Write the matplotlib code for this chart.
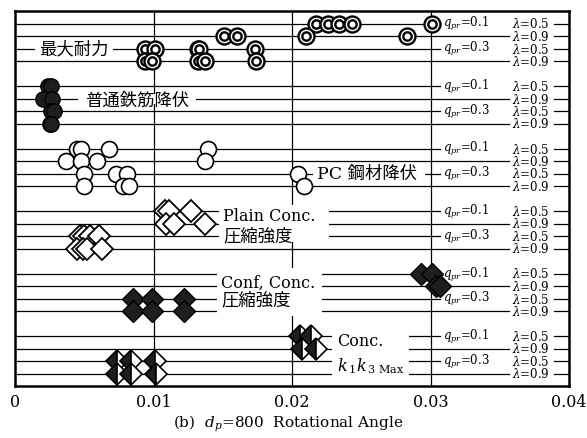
import matplotlib
matplotlib.use("Agg")
import matplotlib.pyplot as plt
from matplotlib.patches import Rectangle

plt.rcParams['mathtext.fontset'] = 'dejavuserif'

SERIF = ['DejaVu Serif', 'Noto Sans CJK JP']

# rotational angle of each specimen, per group; rows are
# (q_pr=0.1, lam=0.5), (q_pr=0.1, lam=0.9), (q_pr=0.3, lam=0.5), (q_pr=0.3, lam=0.9)
max_strength = [[0.0217, 0.0226, 0.0234, 0.0243, 0.0301],
                [0.0151, 0.0160, 0.0210, 0.0283],
                [0.0094, 0.0101, 0.0132, 0.0133, 0.0173],
                [0.0094, 0.0099, 0.0132, 0.0137, 0.0174]]
rebar_yield = [[0.0024, 0.0026],
               [0.0020, 0.0027],
               [0.0026, 0.0028],
               [0.0025, 0.0026]]
pc_yield = [[0.0045, 0.0048, 0.0068, 0.0139],
            [0.0037, 0.0048, 0.0059, 0.0137],
            [0.0050, 0.0073, 0.0081, 0.0204],
            [0.0050, 0.0078, 0.0082, 0.0209]]
plain_conc = [[0.0108, 0.0111, 0.0127],
              [0.0109, 0.0115, 0.0137],
              [0.0047, 0.0050, 0.0054, 0.0061],
              [0.0045, 0.0049, 0.0052, 0.0063]]
conf_conc = [[0.0293, 0.0301],
             [0.0304, 0.0307],
             [0.0085, 0.0099, 0.0122],
             [0.0085, 0.0099, 0.0122]]
conc_k1k3 = [[0.0206, 0.0214],
             [0.0207, 0.0217],
             [0.0074, 0.0084, 0.0101],
             [0.0074, 0.0084, 0.0102]]

q_labels = ['0.1', None, '0.3', None]
lam_labels = ['0.5', '0.9', '0.5', '0.9']
xticks = [0, 0.01, 0.02, 0.03, 0.04]
xticklabels = ['0', '0.01', '0.02', '0.03', '0.04']


def row_y(g, k):
    return 30 - (5 * g + 1 + k)


fig = plt.figure(figsize=(5.87, 4.39), dpi=100)
ax = fig.add_axes([15 / 587, 1 - 387 / 439, 554 / 587, 375 / 439])
ax.set_xlim(0, 0.04)
ax.set_ylim(0, 30)

# horizontal row lines and right hand labels
for g in range(6):
    for k in range(4):
        y = row_y(g, k)
        end = 0.0307 if k % 2 == 0 else 0.0357
        ax.plot([0, end], [y, y], color='black', lw=0.9, zorder=1)
        ax.plot([0.0389, 0.04], [y, y], color='black', lw=0.9, zorder=1)
        if q_labels[k]:
            ax.text(0.0309, y, r'$q_{pr}$=' + q_labels[k], fontsize=8.5,
                    family=SERIF, va='center', ha='left', zorder=5)
        ax.text(0.03585, y, r'$\lambda$=' + lam_labels[k], fontsize=8.5,
                family=SERIF, va='center', ha='left', zorder=5)

for x in [0.01, 0.02, 0.03]:
    ax.axvline(x, color='black', lw=0.9, zorder=1)

# white boxes that break the lines behind the group labels
boxes = [(0.00144, 0.00705, 26.55, 27.45),
         (0.00453, 0.01309, 22.6, 23.4),
         (0.0215, 0.0296, 16.6, 17.4),
         (0.01475, 0.02266, 11.55, 14.45),
         (0.0146, 0.02216, 5.6, 9.45),
         (0.02288, 0.02842, 0.6, 4.4)]
for x0, x1, y0, y1 in boxes:
    ax.add_patch(Rectangle((x0, y0), x1 - x0, y1 - y0, facecolor='white',
                           edgecolor='none', zorder=2))

cjk = 12.5
lat = 11.5
ax.text(0.00424, 27, '最大耐力', fontsize=cjk, family=SERIF, ha='center',
        va='center', zorder=5)
ax.text(0.00881, 22.85, '普通鉄筋降伏', fontsize=cjk, family=SERIF,
        ha='center', va='center', zorder=5)
ax.text(0.0218, 17.0, 'PC 鋼材降伏', fontsize=cjk, family=SERIF, ha='left',
        va='center', zorder=5)
ax.text(0.01504, 13.6, 'Plain Conc.', fontsize=lat, family=SERIF, ha='left',
        va='center', zorder=5)
ax.text(0.01504, 12.0, '圧縮強度', fontsize=cjk, family=SERIF, ha='left',
        va='center', zorder=5)
ax.text(0.01489, 8.3, 'Conf, Conc.', fontsize=lat, family=SERIF, ha='left',
        va='center', zorder=5)
ax.text(0.01489, 6.9, '圧縮強度', fontsize=cjk, family=SERIF, ha='left',
        va='center', zorder=5)
ax.text(0.02324, 3.6, 'Conc.', fontsize=lat, family=SERIF, ha='left',
        va='center', zorder=5)
ax.text(0.02324, 1.7, r'$k_{\,1}k_{\,3\ \mathrm{Max}}$', fontsize=lat,
        family=SERIF, ha='left', va='center', zorder=5)

# markers
z = 6
for k, row in enumerate(max_strength):
    for x in row:
        y = row_y(0, k)
        ax.plot(x, y, 'o', ms=11.5, mfc='white', mec='black', mew=1.7, zorder=z)
        ax.plot(x, y, 'o', ms=6, mfc='white', mec='black', mew=1.7, zorder=z)
        z += 0.01
for k, row in enumerate(rebar_yield):
    for x in row:
        ax.plot(x, row_y(1, k), 'o', ms=11, mfc='#1e1e1e', mec='black',
                mew=1.0, zorder=z)
        z += 0.01
for k, row in enumerate(pc_yield):
    for x in row:
        ax.plot(x, row_y(2, k), 'o', ms=11.5, mfc='white', mec='black',
                mew=1.2, zorder=z)
        z += 0.01
for k, row in enumerate(plain_conc):
    for x in row:
        ax.plot(x, row_y(3, k), 'D', ms=11.5, mfc='white', mec='black',
                mew=1.3, zorder=z)
        z += 0.01
for k, row in enumerate(conf_conc):
    for x in row:
        ax.plot(x, row_y(4, k), 'D', ms=11.5, mfc='#1e1e1e', mec='black',
                mew=1.0, zorder=z)
        z += 0.01
for k, row in enumerate(conc_k1k3):
    for x in row:
        ax.plot(x, row_y(5, k), 'D', ms=11.5, fillstyle='left', mfc='#1e1e1e',
                mfcalt='white', mec='black', mew=1.2, zorder=z)
        z += 0.01

ax.set_xticks(xticks)
ax.set_xticklabels(xticklabels, family=SERIF, fontsize=11.5)
ax.set_yticks([])
ax.tick_params(axis='x', length=0, pad=5)
for s in ax.spines.values():
    s.set_linewidth(1.8)

fig.text(288 / 587, 1 - 424 / 439, r'(b)  $d_p$=800  Rotational Angle',
         family=SERIF, fontsize=11, ha='center', va='center')

fig.savefig('out.png', dpi=100)
